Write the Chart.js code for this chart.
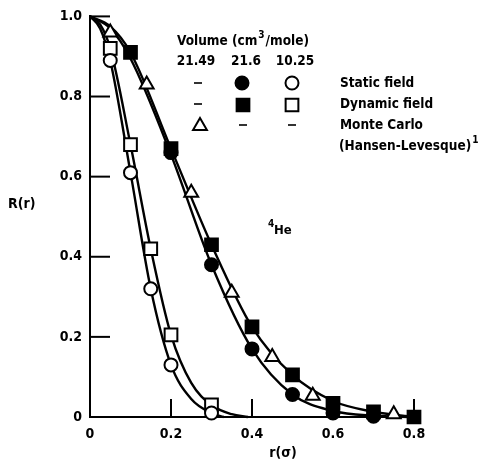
<!DOCTYPE html>
<html>
<head>
<meta charset="utf-8">
<script src="https://cdn.jsdelivr.net/npm/chart.js@4.4.1/dist/chart.umd.min.js"></script>
<style>
  html, body { margin: 0; padding: 0; background: #fff; }
  #wrap { width: 480px; height: 464px; }
</style>
</head>
<body>
<div id="wrap"><canvas id="rChart" width="480" height="464"></canvas></div>
<script>
/* Dados: pontos medidos */
const staticHighR = [0.2, 0.3, 0.4, 0.5, 0.6, 0.7];
const staticHighVal = [0.66, 0.38, 0.17, 0.056, 0.01, 0.002];
const dynamicHighR = [0.1, 0.2, 0.3, 0.4, 0.5, 0.6, 0.7, 0.8];
const dynamicHighVal = [0.91, 0.67, 0.43, 0.225, 0.105, 0.034, 0.013, 0.0];
const monteCarloR = [0.05, 0.14, 0.25, 0.35, 0.45, 0.55, 0.75];
const monteCarloVal = [0.96, 0.83, 0.56, 0.31, 0.15, 0.053, 0.007];
const staticLowR = [0.05, 0.1, 0.15, 0.2, 0.3];
const staticLowVal = [0.89, 0.61, 0.32, 0.13, 0.01];
const dynamicLowR = [0.05, 0.1, 0.15, 0.2, 0.3];
const dynamicLowVal = [0.92, 0.68, 0.42, 0.205, 0.03];

/* Dados: curvas */
const curveHighR = [0, 0.05, 0.1, 0.2, 0.3, 0.4, 0.5, 0.6, 0.7, 0.8];
const curveDynHighVal = [1.0, 0.975, 0.91, 0.67, 0.43, 0.225, 0.105, 0.04, 0.013, 0.0];
const curveStatHighVal = [1.0, 0.97, 0.895, 0.655, 0.38, 0.17, 0.056, 0.015, 0.003, 0.0];
const curveDynLowR = [0, 0.025, 0.05, 0.1, 0.15, 0.2, 0.25, 0.3, 0.35, 0.39];
const curveDynLowVal = [1.0, 0.98, 0.92, 0.68, 0.42, 0.205, 0.085, 0.03, 0.007, 0.0];
const curveStatLowR = [0, 0.025, 0.05, 0.1, 0.15, 0.2, 0.25, 0.3, 0.33];
const curveStatLowVal = [1.0, 0.97, 0.89, 0.61, 0.32, 0.13, 0.045, 0.01, 0.0];

const xTicks = [0, 0.2, 0.4, 0.6, 0.8];
const yTicks = [0, 0.2, 0.4, 0.6, 0.8, 1.0];

const FONT = "'DejaVu Sans Condensed', 'Liberation Sans Narrow', 'Liberation Sans', sans-serif";

function pts(xs, ys) {
  return xs.map((x, i) => ({ x: x, y: ys[i] }));
}

function markers(xs, ys, style, filled, radius) {
  return {
    data: pts(xs, ys),
    showLine: false,
    clip: false,
    pointStyle: style,
    pointRadius: radius,
    pointBorderWidth: 2,
    pointBorderColor: "#000",
    pointBackgroundColor: filled ? "#000" : "#fff",
  };
}

function curve(xs, ys) {
  return {
    data: pts(xs, ys),
    showLine: true,
    clip: false,
    pointRadius: 0,
    borderColor: "#000",
    borderWidth: 2.4,
    cubicInterpolationMode: "monotone",
  };
}

function drawSymbol(ctx, style, filled, x, y, r) {
  ctx.save();
  ctx.lineWidth = 2;
  ctx.strokeStyle = "#000";
  ctx.fillStyle = filled ? "#000" : "#fff";
  ctx.beginPath();
  if (style == "circle") {
    ctx.arc(x, y, r, 0, Math.PI * 2);
  } else if (style == "rect") {
    const s = r * Math.SQRT1_2;
    ctx.rect(x - s, y - s, 2 * s, 2 * s);
  } else if (style == "triangle") {
    ctx.moveTo(x, y - r);
    ctx.lineTo(x + r * 0.866, y + r * 0.5);
    ctx.lineTo(x - r * 0.866, y + r * 0.5);
    ctx.closePath();
  } else if (style == "dash") {
    ctx.moveTo(x - 4, y);
    ctx.lineTo(x + 4, y);
    ctx.lineWidth = 1.6;
    ctx.stroke();
    ctx.restore();
    return;
  }
  ctx.fill();
  ctx.stroke();
  ctx.restore();
}

/* Ticks internos, rótulos e legenda */
const extras = {
  id: "extras",
  afterDraw(chart) {
    const ctx = chart.ctx;
    const xs = chart.scales.x;
    const ys = chart.scales.y;
    ctx.save();
    ctx.strokeStyle = "#000";
    ctx.lineWidth = 2;
    yTicks.forEach((v) => {
      if (v == 0) return;
      const py = ys.getPixelForValue(v);
      ctx.beginPath();
      ctx.moveTo(xs.left, py);
      ctx.lineTo(xs.left + 20, py);
      ctx.stroke();
    });
    xTicks.forEach((v) => {
      if (v == 0) return;
      const px = xs.getPixelForValue(v);
      ctx.beginPath();
      ctx.moveTo(px, ys.bottom);
      ctx.lineTo(px, ys.bottom - 18);
      ctx.stroke();
    });

    ctx.fillStyle = "#000";
    ctx.textBaseline = "middle";
    ctx.textAlign = "left";
    ctx.font = "bold 14px " + FONT;
    ctx.fillText("R(r)", 8, 204);
    ctx.textAlign = "center";
    ctx.fillText("r(σ)", 283, 453);

    // legenda
    const LF = "bold 13.5px " + FONT;
    const SF = "bold 10px " + FONT;
    ctx.font = LF;
    ctx.textAlign = "left";
    let x0 = 177;
    ctx.fillText("Volume (cm", x0, 41);
    let w = ctx.measureText("Volume (cm").width;
    ctx.font = SF;
    ctx.fillText("3", x0 + w + 1, 35);
    let w3 = ctx.measureText("3").width;
    ctx.font = LF;
    ctx.fillText("/mole)", x0 + w + w3 + 2, 41);

    ctx.textAlign = "center";
    ctx.fillText("21.49", 196, 61);
    ctx.fillText("21.6", 246, 61);
    ctx.fillText("10.25", 295, 61);

    drawSymbol(ctx, "dash", true, 198, 83, 0);
    drawSymbol(ctx, "circle", true, 242, 83, 6.5);
    drawSymbol(ctx, "circle", false, 292, 83, 6.5);
    drawSymbol(ctx, "dash", true, 198, 104, 0);
    drawSymbol(ctx, "rect", true, 243, 105, 9);
    drawSymbol(ctx, "rect", false, 292, 105, 9);
    drawSymbol(ctx, "triangle", false, 200, 126, 8);
    drawSymbol(ctx, "dash", true, 243, 125, 0);
    drawSymbol(ctx, "dash", true, 292, 125, 0);

    ctx.textAlign = "left";
    ctx.fillText("Static field", 340, 83);
    ctx.fillText("Dynamic field", 340, 104);
    ctx.fillText("Monte Carlo", 340, 125);
    ctx.fillText("(Hansen-Levesque)", 339, 146);
    w = ctx.measureText("(Hansen-Levesque)").width;
    ctx.font = SF;
    ctx.fillText("1", 339 + w + 1, 140);

    ctx.fillText("4", 268, 224);
    ctx.font = "bold 13px " + FONT;
    ctx.fillText("He", 274, 231);
    ctx.restore();
  },
};

const ctxR = document.getElementById("rChart").getContext("2d");
const chartR = new Chart(ctxR, {
  type: "scatter",
  data: {
    datasets: [
      markers(staticHighR, staticHighVal, "circle", true, 6.5),
      markers(dynamicHighR, dynamicHighVal, "rect", true, 9),
      markers(monteCarloR, monteCarloVal, "triangle", false, 8),
      markers(staticLowR, staticLowVal, "circle", false, 6.5),
      markers(dynamicLowR, dynamicLowVal, "rect", false, 9),
      curve(curveHighR, curveDynHighVal),
      curve(curveHighR, curveStatHighVal),
      curve(curveDynLowR, curveDynLowVal),
      curve(curveStatLowR, curveStatLowVal),
    ],
  },
  options: {
    responsive: false,
    animation: false,
    layout: { padding: { top: 14, right: 66, left: 0, bottom: 0 } },
    plugins: { legend: { display: false }, tooltip: { enabled: false } },
    scales: {
      x: {
        type: "linear",
        min: 0,
        max: 0.8,
        afterBuildTicks: (s) => { s.ticks = xTicks.map((v) => ({ value: v })); },
        afterFit: (s) => { s.height = 47; },
        grid: { display: false, drawTicks: false },
        border: { display: true, color: "#000", width: 2 },
        ticks: {
          color: "#000",
          padding: 9,
          maxRotation: 0,
          font: { family: FONT, size: 14, weight: "bold" },
          callback: (v) => (v == 0 ? "0" : v.toFixed(1)),
        },
      },
      y: {
        type: "linear",
        min: 0,
        max: 1.0,
        afterBuildTicks: (s) => { s.ticks = yTicks.map((v) => ({ value: v })); },
        afterFit: (s) => { s.width = 90; },
        grid: { display: false, drawTicks: false },
        border: { display: true, color: "#000", width: 2 },
        ticks: {
          color: "#000",
          padding: 8,
          font: { family: FONT, size: 14, weight: "bold" },
          callback: (v) => (v == 0 ? "0" : v.toFixed(1)),
        },
      },
    },
  },
  plugins: [extras],
});
</script>
</body>
</html>
